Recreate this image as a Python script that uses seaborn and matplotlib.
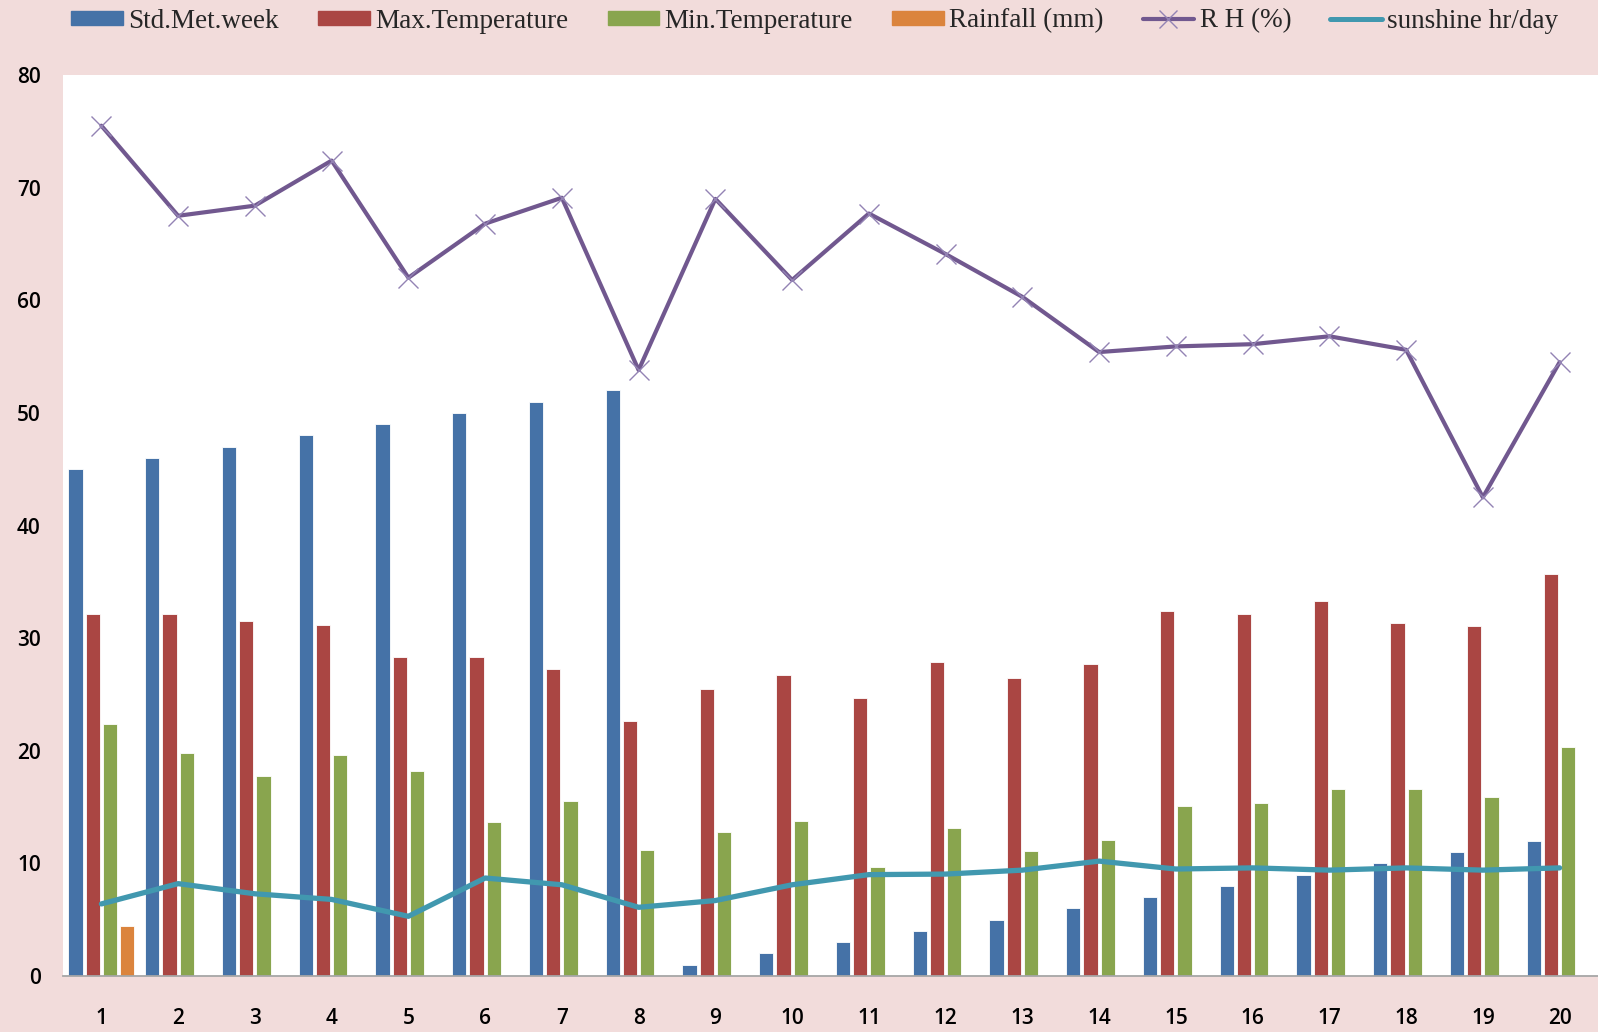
import numpy as np
import pandas as pd
import matplotlib
matplotlib.use("Agg")
import matplotlib.pyplot as plt
import matplotlib.patches as mpatches
from matplotlib.lines import Line2D
import seaborn as sns

# values
weeks = list(range(1, 21))
std_met_week = [45, 46, 47, 48, 49, 50, 51, 52, 1, 2, 3, 4, 5, 6, 7, 8, 9, 10, 11, 12]
max_temp = [32.1, 32.1, 31.5, 31.2, 28.3, 28.3, 27.3, 22.6, 25.5, 26.7,
            24.7, 27.9, 26.5, 27.7, 32.4, 32.1, 33.3, 31.3, 31.1, 35.7]
min_temp = [22.4, 19.8, 17.8, 19.6, 18.2, 13.7, 15.5, 11.2, 12.8, 13.8,
            9.7, 13.1, 11.1, 12.1, 15.1, 15.4, 16.6, 16.6, 15.9, 20.3]
rainfall = [4.45] + [0] * 19
rh = [75.5, 67.5, 68.4, 72.4, 62.0, 66.8, 69.1, 53.8, 69.0, 61.8,
      67.7, 64.1, 60.3, 55.4, 55.9, 56.1, 56.8, 55.6, 42.5, 54.5]
sunshine = [6.4, 8.2, 7.3, 6.8, 5.3, 8.7, 8.1, 6.1, 6.7, 8.1,
            9.0, 9.05, 9.4, 10.2, 9.5, 9.6, 9.4, 9.6, 9.4, 9.6]

bar_series = ["Std.Met.week", "Max.Temperature", "Min.Temperature", "Rainfall (mm)"]
bar_colors = ["#4572A7", "#AA4643", "#89A54E", "#DB843D"]
rh_color = "#71588F"
sun_color = "#4198AF"
bg_color = "#F2DCDB"

bars = pd.DataFrame({
    "week": weeks * 4,
    "series": np.repeat(bar_series, len(weeks)),
    "value": std_met_week + max_temp + min_temp + rainfall,
})

sns.set_theme(style="white")
plt.rcParams["font.family"] = ["Open Sans", "DejaVu Sans"]

fig = plt.figure(figsize=(15.98, 10.32), dpi=100, facecolor=bg_color)
ax = fig.add_axes([63 / 1598, 56 / 1032, 1535 / 1598, 901 / 1032])
ax.set_facecolor("white")

sns.barplot(
    data=bars, x="week", y="value", hue="series", hue_order=bar_series,
    palette=bar_colors, saturation=1, native_scale=True, width=0.9, gap=0.17,
    edgecolor="white", linewidth=0.6, legend=False, ax=ax,
)

sns.lineplot(
    x=weeks, y=rh, color=rh_color, linewidth=3, marker="x", markersize=14,
    markeredgewidth=1, markeredgecolor="#9383B4", ax=ax,
)
sns.lineplot(x=weeks, y=sunshine, color=sun_color, linewidth=3.8, ax=ax)

ax.set_xlim(0.5, 20.5)
ax.set_ylim(0, 80)
ax.set_yticks(range(0, 81, 10))
ax.set_xticks(weeks)
ax.set_xticklabels([str(w) for w in weeks])
ax.set_xlabel("")
ax.set_ylabel("")
for side in ["left", "top", "right"]:
    ax.spines[side].set_visible(False)
ax.spines["bottom"].set_color("#A6A6A6")
ax.spines["bottom"].set_linewidth(1.3)
ax.tick_params(axis="x", length=0, pad=23, labelsize=15, labelcolor="black")
ax.tick_params(axis="y", length=0, pad=16, labelsize=15, labelcolor="black")
for lab in ax.get_xticklabels() + ax.get_yticklabels():
    lab.set_fontweight("semibold")

# legend across the top
handles = [mpatches.Patch(color=c, label=s) for s, c in zip(bar_series, bar_colors)]
handles.append(Line2D([], [], color=rh_color, lw=3, marker="x", markersize=13,
                      markeredgewidth=1, markeredgecolor="#9383B4", label="R H (%)"))
handles.append(Line2D([], [], color=sun_color, lw=3.6, label="sunshine hr/day"))
fig.legend(
    handles=handles, loc="center", bbox_to_anchor=(0.51, 1 - 21 / 1032), ncol=6,
    frameon=False, prop={"family": "Liberation Serif", "size": 19.5},
    handlelength=1.9, handleheight=0.4, handletextpad=0.2, columnspacing=1.45,
)

fig.savefig("out.png", dpi=100, facecolor=bg_color)
